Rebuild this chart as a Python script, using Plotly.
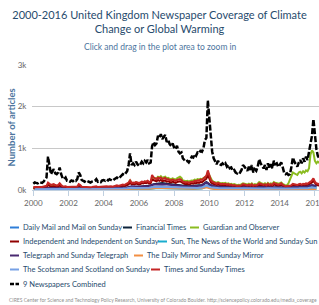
import plotly.graph_objects as go
import pandas as pd

FONT = "Lato, Roboto, Liberation Sans, sans-serif"

# ---------------- data (monthly, Jan 2000 - Apr 2016) ----------------
combined = [
    150, 180, 170, 160, 190, 180, 170, 200, 260, 300, 800, 560,      # 2000
    380, 450, 500, 400, 380, 420, 540, 380, 280, 260, 300, 220,      # 2001
    220, 200, 230, 210, 240, 220, 260, 420, 360, 240, 210, 200,      # 2002
    230, 210, 190, 180, 200, 210, 220, 260, 200, 210, 190, 230,      # 2003
    240, 220, 250, 230, 260, 240, 220, 250, 280, 300, 270, 310,      # 2004
    330, 380, 360, 420, 450, 600, 880, 600, 640, 600, 680, 620,      # 2005
    580, 620, 680, 640, 700, 660, 720, 640, 660, 1050, 1150, 1080,   # 2006
    1120, 1300, 1250, 1340, 1220, 1280, 1320, 1150, 1200, 1100, 1060, 1120,  # 2007
    1020, 980, 1060, 920, 880, 900, 760, 720, 680, 700, 660, 720,    # 2008
    800, 780, 860, 820, 900, 880, 940, 920, 1000, 1200, 1250, 2150,  # 2009
    1640, 1160, 920, 760, 680, 620, 700, 620, 600, 640, 600, 640,    # 2010
    560, 600, 520, 540, 460, 480, 420, 400, 440, 420, 480, 600,      # 2011
    560, 520, 460, 560, 480, 600, 420, 500, 460, 560, 740, 640,      # 2012
    560, 520, 600, 480, 640, 540, 620, 520, 700, 620, 640, 560,      # 2013
    600, 660, 560, 420, 380, 400, 360, 380, 560, 780, 680, 620,      # 2014
    560, 660, 720, 640, 760, 680, 800, 720, 900, 1050, 1300, 1700,   # 2015
    1300, 980, 820, 760,                                             # 2016
]
guardian = [
    40, 50, 45, 40, 50, 45, 40, 55, 60, 70, 150, 110,
    90, 100, 110, 90, 85, 95, 130, 90, 70, 60, 70, 55,
    55, 50, 60, 55, 60, 55, 65, 110, 90, 60, 55, 50,
    60, 55, 50, 45, 50, 55, 60, 65, 50, 55, 50, 60,
    65, 60, 70, 65, 75, 70, 60, 70, 80, 85, 75, 90,
    95, 110, 100, 120, 130, 160, 240, 160, 170, 160, 190, 170,
    160, 170, 190, 180, 200, 190, 210, 180, 190, 280, 300, 280,
    280, 320, 300, 330, 290, 310, 320, 280, 290, 270, 260, 280,
    260, 250, 280, 300, 320, 290, 230, 220, 210, 220, 200, 220,
    230, 220, 250, 240, 260, 250, 270, 260, 280, 320, 330, 420,
    340, 260, 220, 200, 180, 170, 190, 170, 160, 170, 160, 170,
    150, 160, 140, 150, 130, 140, 120, 115, 125, 120, 140, 160,
    150, 140, 130, 150, 130, 160, 120, 140, 130, 150, 190, 170,
    150, 140, 160, 130, 170, 140, 160, 140, 190, 170, 170, 150,
    160, 180, 150, 120, 110, 115, 160, 250, 340, 420, 400, 380,
    360, 420, 440, 400, 450, 420, 470, 450, 520, 850, 950, 900,
    700, 640, 680, 650,
]
times = [
    70, 80, 75, 70, 80, 75, 70, 85, 90, 100, 180, 140,
    120, 130, 140, 120, 110, 120, 160, 120, 90, 85, 90, 75,
    75, 70, 80, 75, 80, 75, 85, 140, 120, 80, 75, 70,
    80, 75, 70, 65, 70, 75, 80, 90, 70, 75, 70, 80,
    85, 80, 90, 85, 95, 90, 80, 90, 100, 110, 95, 110,
    110, 130, 120, 140, 150, 180, 230, 170, 180, 170, 190, 180,
    170, 180, 200, 190, 210, 200, 220, 190, 200, 360, 300, 280,
    260, 300, 280, 300, 260, 280, 290, 250, 260, 240, 230, 250,
    230, 220, 240, 250, 260, 240, 200, 190, 180, 190, 170, 190,
    200, 190, 220, 210, 230, 220, 250, 240, 280, 320, 340, 470,
    330, 240, 200, 180, 160, 150, 170, 150, 140, 150, 140, 150,
    130, 140, 120, 130, 110, 120, 100, 95, 105, 100, 120, 140,
    130, 120, 110, 130, 110, 140, 100, 120, 110, 130, 160, 150,
    130, 120, 140, 110, 150, 120, 140, 120, 170, 150, 150, 130,
    140, 160, 130, 100, 90, 95, 90, 100, 120, 150, 140, 130,
    120, 140, 150, 130, 150, 140, 160, 150, 170, 200, 230, 280,
    200, 160, 150, 140,
]
independent = [
    45, 50, 45, 40, 50, 45, 40, 55, 60, 65, 120, 90,
    80, 85, 90, 75, 70, 80, 110, 75, 60, 55, 60, 50,
    50, 45, 55, 50, 55, 50, 60, 95, 80, 55, 50, 45,
    55, 50, 45, 40, 45, 50, 55, 60, 45, 50, 45, 55,
    55, 50, 60, 55, 65, 60, 50, 60, 70, 75, 65, 80,
    80, 95, 85, 105, 115, 135, 180, 135, 145, 135, 155, 145,
    135, 145, 165, 155, 175, 165, 185, 155, 165, 250, 230, 210,
    210, 240, 220, 240, 210, 220, 230, 200, 210, 190, 180, 200,
    180, 170, 190, 200, 210, 190, 160, 150, 140, 150, 130, 150,
    160, 150, 170, 165, 180, 170, 190, 185, 220, 250, 270, 370,
    250, 190, 160, 140, 125, 115, 130, 115, 105, 115, 105, 115,
    100, 105, 90, 100, 85, 90, 75, 70, 80, 75, 90, 105,
    100, 90, 85, 100, 85, 105, 75, 90, 85, 100, 125, 115,
    100, 90, 105, 85, 115, 90, 105, 90, 130, 115, 115, 100,
    105, 120, 100, 75, 65, 70, 70, 75, 90, 110, 105, 100,
    90, 105, 110, 95, 110, 105, 120, 110, 130, 155, 180, 220,
    160, 125, 115, 110,
]

# ---------------- data (quarterly, 2000 Q1 - 2016 Q1) ----------------
financial_times = [
    20, 25, 20, 30, 35, 30, 35, 25, 25, 30, 35, 25, 25, 25, 30, 30,
    30, 35, 35, 40, 50, 60, 70, 80, 80, 90, 100, 140, 160, 170, 150, 140,
    130, 120, 100, 90, 100, 110, 120, 190, 110, 85, 75, 75, 65, 60, 55, 65,
    60, 55, 50, 65, 55, 60, 55, 65, 55, 45, 45, 65, 65, 65, 75, 110, 85,
]
telegraph = [
    30, 30, 30, 50, 50, 50, 40, 30, 30, 30, 50, 30, 30, 25, 30, 30,
    35, 40, 40, 45, 50, 60, 90, 80, 80, 90, 90, 130, 140, 140, 130, 120,
    110, 110, 90, 80, 90, 100, 110, 180, 120, 85, 75, 75, 65, 60, 55, 65,
    65, 60, 55, 70, 60, 65, 60, 70, 65, 55, 55, 75, 75, 75, 85, 120, 95,
]
daily_mail = [
    15, 15, 20, 25, 25, 25, 20, 15, 15, 15, 25, 20, 15, 15, 20, 15,
    20, 20, 25, 25, 30, 35, 50, 45, 45, 50, 50, 75, 85, 85, 75, 70,
    65, 60, 50, 45, 50, 55, 65, 115, 75, 55, 45, 45, 40, 35, 35, 40,
    40, 35, 35, 45, 40, 45, 40, 50, 45, 40, 40, 50, 50, 50, 55, 75, 55,
]
sun = [
    5, 5, 5, 10, 10, 10, 5, 5, 5, 5, 10, 5, 5, 5, 5, 5,
    5, 5, 10, 10, 10, 15, 25, 20, 20, 25, 25, 40, 50, 45, 40, 35,
    30, 30, 25, 20, 25, 30, 35, 75, 40, 25, 20, 20, 15, 15, 15, 15,
    15, 15, 10, 15, 15, 15, 15, 20, 15, 15, 15, 20, 20, 20, 20, 35, 25,
]
mirror = [
    10, 10, 10, 20, 15, 15, 15, 10, 10, 10, 15, 10, 10, 10, 10, 10,
    10, 10, 15, 15, 15, 20, 30, 25, 25, 30, 30, 45, 55, 50, 45, 40,
    35, 35, 30, 25, 30, 35, 40, 65, 35, 25, 20, 20, 15, 15, 15, 15,
    15, 15, 10, 15, 10, 15, 10, 15, 10, 10, 10, 15, 15, 15, 15, 25, 20,
]
scotsman = [
    20, 20, 25, 35, 30, 30, 25, 20, 20, 20, 30, 20, 20, 20, 20, 20,
    25, 25, 25, 30, 35, 40, 55, 50, 50, 50, 55, 70, 80, 75, 70, 65,
    60, 55, 50, 45, 50, 50, 60, 100, 65, 50, 45, 45, 40, 40, 35, 40,
    40, 35, 35, 40, 35, 40, 35, 45, 40, 35, 35, 45, 40, 45, 45, 65, 50,
]

series_names = [
    "Daily Mail and Mail on Sunday", "Financial Times", "Guardian and Observer",
    "Independent and Independent on Sunday", "Sun, The News of the World and Sunday Sun",
    "Telegraph and Sunday Telegraph", "The Daily Mirror and Sunday Mirror",
    "The Scotsman and Scotland on Sunday", "Times and Sunday Times", "9 Newspapers Combined",
]
series_colors = ["#2f7ed8", "#0d233a", "#8bbc21", "#910000", "#1aadce",
                 "#492970", "#f28f43", "#77a1e5", "#c42525", "#000000"]
series_values = [daily_mail, financial_times, guardian, independent, sun,
                 telegraph, mirror, scotsman, times, combined]
series_freq = ["Q", "Q", "M", "M", "Q", "Q", "Q", "Q", "M", "M"]

y_tick_vals = [0, 1000, 2000, 3000]
y_tick_text = ["0k", "1k", "2k", "3k"]
x_tick_years = ["2000", "2002", "2004", "2006", "2008", "2010", "2012", "2014", "2016"]

months = pd.date_range("2000-01-01", periods=len(combined), freq="MS")
quarters = pd.date_range("2000-02-01", periods=len(financial_times), freq="3MS")

fig = go.Figure()
for name, color, vals, fq in zip(series_names, series_colors, series_values, series_freq):
    xs = months if fq == "M" else quarters
    is_total = name.startswith("9 ")
    fig.add_trace(go.Scatter(
        x=xs, y=vals, name=name, mode="lines",
        line=dict(color=color, width=2.5 if is_total else 2,
                  dash="6px,2px" if is_total else "solid"),
        showlegend=False,
    ))

# ----- layout -----
W, H = 319, 305
L, R, T, B = 32, 0, 65, 115
pw, ph = W - L - R, H - T - B

def px(x):
    return (x - L) / pw

def py(y):
    return (H - B - y) / ph

fig.update_layout(
    width=W, height=H,
    margin=dict(l=L, r=R, t=T, b=B, autoexpand=False),
    paper_bgcolor="white", plot_bgcolor="white",
    font=dict(family=FONT, color="#274b6d"),
    title=dict(
        text="2000-2016 United Kingdom Newspaper Coverage of Climate<br>Change or Global Warming",
        x=0.5, xref="container", xanchor="center",
        y=1 - 19 / H, yref="container", yanchor="middle",
        font=dict(size=11, color="#274b6d", family=FONT),
    ),
    xaxis=dict(
        type="date", automargin=False,
        range=["1999-12-05", "2016-03-26"],
        tickvals=[f"{y}-01-01" for y in x_tick_years],
        ticktext=x_tick_years, ticklabeloverflow="allow",
        showgrid=False, zeroline=False,
        showline=True, linecolor="#C0D0E0", linewidth=1,
        ticks="outside", ticklen=5, tickcolor="#C0D0E0",
        tickfont=dict(size=8, color="#666666", family=FONT),
    ),
    yaxis=dict(
        range=[0, 3000], automargin=False,
        tickvals=y_tick_vals, ticktext=y_tick_text,
        showgrid=True, gridcolor="#C8C8C8", gridwidth=1,
        zeroline=False, showline=False,
        ticks="outside", ticklen=3, tickcolor="rgba(0,0,0,0)",
        tickfont=dict(size=8, color="#666666", family=FONT),
    ),
)

annotations = [
    dict(text="<b>Number of articles</b>", x=px(11), xref="paper", y=0.5, yref="paper",
         textangle=-90, xanchor="center", yanchor="middle", showarrow=False, borderpad=0,
         font=dict(size=9.5, color="#4d759e", family=FONT)),
    dict(text="Click and drag in the plot area to zoom in", x=px(160), xref="paper",
         y=py(47), yref="paper", xanchor="center", yanchor="middle", showarrow=False,
         borderpad=0, font=dict(size=8.5, color="#4d759e", family=FONT)),
    dict(text="CIRES Center for Science and Technology Policy Research, University of Colorado Boulder. http://sciencepolicy.colorado.edu/media_coverage",
         x=px(318), xref="paper", y=py(300), yref="paper", xanchor="right", yanchor="middle",
         showarrow=False, borderpad=0, font=dict(size=5, color="#909090", family=FONT)),
]

# manual legend (Highcharts-style compact layout)
legend_pos = [  # (symbol start x, row y)
    (10, 227.5), (123, 227.5), (190, 227.5),
    (10, 241.5), (158, 241.5),
    (10, 255.5), (134, 255.5),
    (10, 269.5), (151, 269.5),
    (10, 284),
]
shapes = []
for (sx, ry), name, color in zip(legend_pos, series_names, series_colors):
    is_total = name.startswith("9 ")
    shapes.append(dict(type="line", xref="paper", yref="paper",
                       x0=px(sx), x1=px(sx + 9), y0=py(ry), y1=py(ry),
                       line=dict(color=color, width=2.5 if is_total else 2,
                                 dash="4px,1.5px" if is_total else "solid")))
    annotations.append(dict(text=name, x=px(sx + 12), xref="paper", y=py(ry), yref="paper",
                            xanchor="left", yanchor="middle", showarrow=False, borderpad=0,
                            font=dict(size=7.5, color="#274b6d", family=FONT)))

fig.update_layout(annotations=annotations, shapes=shapes)
fig.write_html("out.html", config={"displayModeBar": False},
               post_script="document.body.style.margin='0';document.body.style.overflow='hidden';")
